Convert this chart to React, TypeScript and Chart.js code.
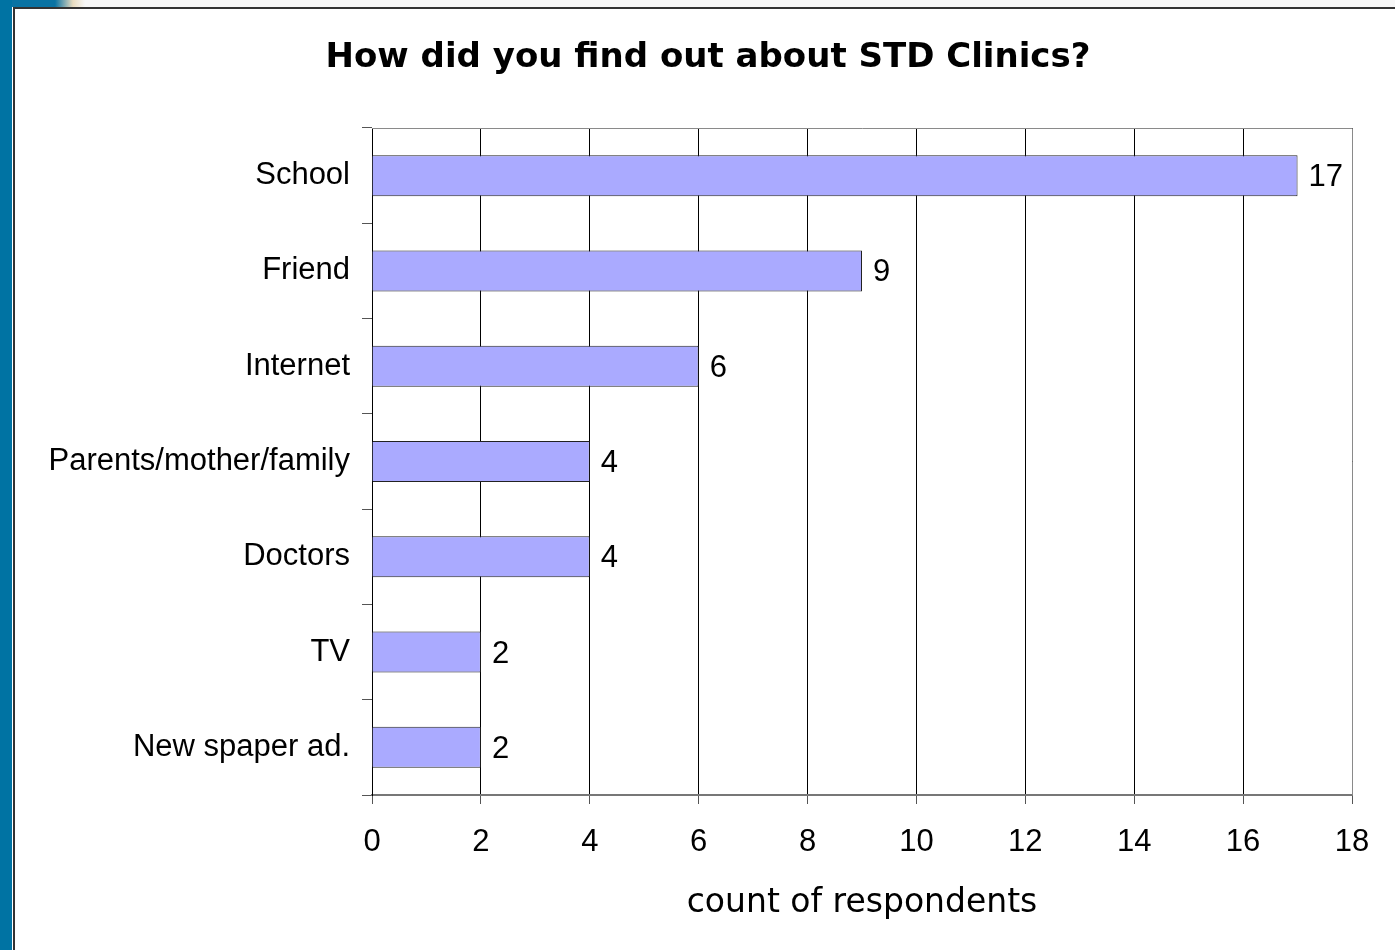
import React, { useEffect, useRef } from "react";
import { Chart, registerables } from "chart.js";

Chart.register(...registerables);

const TITLE = "How did you find out about STD Clinics?";
const X_TITLE = "count of respondents";
const categories = [
  "School",
  "Friend",
  "Internet",
  "Parents/mother/family",
  "Doctors",
  "TV",
  "New spaper ad.",
];
const counts = [17, 9, 6, 4, 4, 2, 2];
const X_MIN = 0;
const X_MAX = 18;
const X_STEP = 2;

const W = 1395;
const H = 950;

const framePlugin = {
  id: "frame",
  beforeDraw(chart: any) {
    const ctx = chart.ctx;
    ctx.save();
    ctx.fillStyle = "#ffffff";
    ctx.fillRect(0, 0, W, H);
    // top strip
    ctx.fillStyle = "#f7f7f7";
    ctx.fillRect(0, 0, W, 7);
    const g = ctx.createLinearGradient(55, 0, 85, 0);
    g.addColorStop(0, "#0a73a3");
    g.addColorStop(0.6, "#e9dcc0");
    g.addColorStop(1, "#f7f7f7");
    ctx.fillStyle = g;
    ctx.fillRect(0, 0, 90, 7);
    // left blue strip
    ctx.fillStyle = "#0073a3";
    ctx.fillRect(0, 0, 12, H);
    // frame lines
    ctx.fillStyle = "#333333";
    ctx.fillRect(13, 7, 2, H - 7);
    ctx.fillRect(13, 7, W - 13, 2);
    ctx.restore();
  },
  afterDraw(chart: any) {
    const ctx = chart.ctx;
    const a = chart.chartArea;
    ctx.save();
    // plot area top & right border
    ctx.strokeStyle = "#8a8a8a";
    ctx.lineWidth = 1;
    ctx.beginPath();
    ctx.moveTo(a.left, a.top + 0.5);
    ctx.lineTo(a.right + 0.5, a.top + 0.5);
    ctx.lineTo(a.right + 0.5, a.bottom);
    ctx.stroke();
    // title
    ctx.fillStyle = "#000";
    ctx.font = "bold 34px 'DejaVu Sans'";
    ctx.textAlign = "center";
    ctx.textBaseline = "middle";
    ctx.fillText(TITLE, 708, 58);
    // data labels
    const meta = chart.getDatasetMeta(0);
    ctx.font = "31px 'Liberation Sans'";
    ctx.textAlign = "left";
    meta.data.forEach((bar: any, i: number) => {
      ctx.fillText(String(counts[i]), bar.x + 11, bar.y + 2);
    });
    ctx.restore();
  },
};

export default function App() {
  const ref = useRef<HTMLCanvasElement>(null);
  useEffect(() => {
    if (!ref.current) return;
    const chart = new Chart(ref.current, {
      type: "bar",
      data: {
        labels: categories,
        datasets: [
          {
            data: counts,
            backgroundColor: "#aaaaff",
            borderColor: "#222222",
            borderWidth: 1,
            categoryPercentage: 1,
            barPercentage: 0.43,
          },
        ],
      },
      options: {
        indexAxis: "y",
        responsive: false,
        animation: false,
        devicePixelRatio: 1,
        layout: { padding: { left: 14, right: 43, top: 128, bottom: 0 } },
        plugins: {
          legend: { display: false },
          title: { display: false },
          tooltip: { enabled: false },
        },
        scales: {
          x: {
            min: X_MIN,
            max: X_MAX,
            ticks: {
              stepSize: X_STEP,
              color: "#000",
              font: { family: "'Liberation Sans'", size: 31 },
              padding: 20,
              maxRotation: 0,
            },
            grid: {
              color: "#000",
              lineWidth: 1,
              tickLength: 9,
              tickColor: "#555",
            },
            border: { color: "#777", width: 2 },
            title: {
              display: true,
              text: X_TITLE,
              color: "#000",
              font: { family: "'DejaVu Sans'", size: 33 },
              padding: { top: 0, bottom: 27 },
            },
            afterFit(scale: any) {
              scale.height = 155;
            },
          },
          y: {
            ticks: {
              color: "#000",
              font: { family: "'Liberation Sans'", size: 31 },
              padding: 12,
            },
            grid: {
              offset: true,
              drawOnChartArea: false,
              tickLength: 10,
              color: "#555",
            },
            border: { color: "#000", width: 1 },
            afterFit(scale: any) {
              scale.width = 358;
            },
          },
        },
      },
      plugins: [framePlugin],
    });
    return () => chart.destroy();
  }, []);
  return (
    <div style={{ position: "fixed", left: 0, top: 0, width: W, height: H }}>
      <canvas ref={ref} width={W} height={H} style={{ width: W, height: H }} />
    </div>
  );
}
